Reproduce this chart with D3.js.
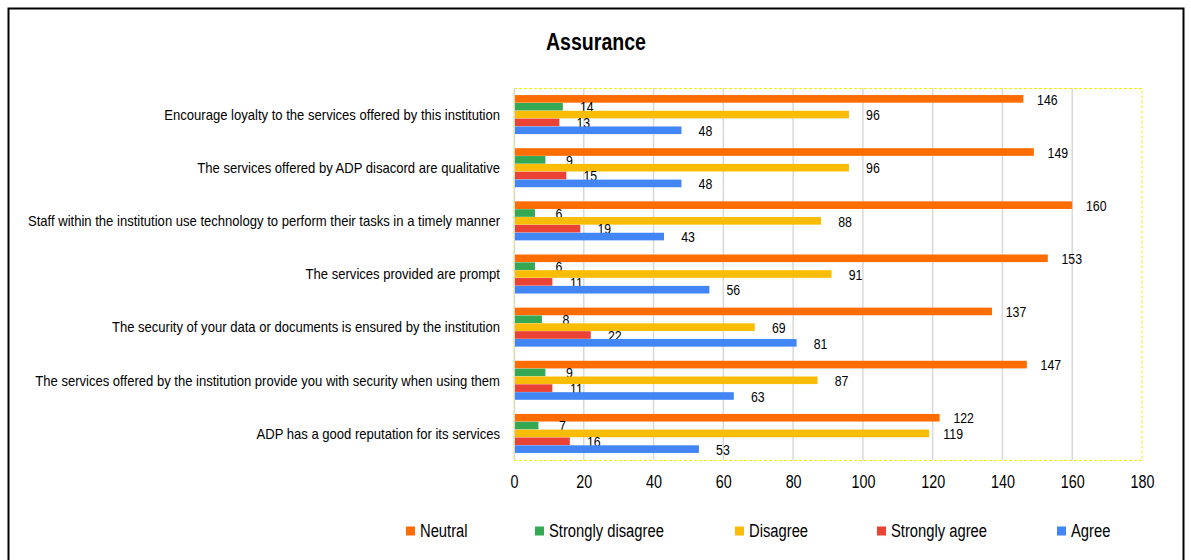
<!DOCTYPE html>
<html>
<head>
<meta charset="utf-8">
<script src="https://cdn.jsdelivr.net/npm/d3@7"></script>
<style>
  html, body { margin: 0; padding: 0; background: #fff; }
  svg { display: block; }
  text { font-family: 'Liberation Sans Narrow', 'Arial Narrow', 'Liberation Sans', Arial, sans-serif; fill: #000; }
</style>
</head>
<body>
<svg id="chart" width="1191" height="560"></svg>
<script>
// Survey statements (top to bottom)
const categories = [
  "Encourage loyalty to the services offered by this institution",
  "The services offered by ADP disacord are qualitative",
  "Staff within the institution use technology to perform their tasks in a timely manner",
  "The services provided are prompt",
  "The security of your data or documents is ensured by the institution",
  "The services offered by the institution provide you with security when using them",
  "ADP has a good reputation for its services"
];

// Response series, in drawing order within each group
const seriesNames = ["Neutral", "Strongly disagree", "Disagree", "Strongly agree", "Agree"];
const neutral          = [146, 149, 160, 153, 137, 147, 122];
const stronglyDisagree = [14, 9, 6, 6, 8, 9, 7];
const disagree         = [96, 96, 88, 91, 69, 87, 119];
const stronglyAgree    = [13, 15, 19, 11, 22, 11, 16];
const agree            = [48, 48, 43, 56, 81, 63, 53];
const seriesValues = [neutral, stronglyDisagree, disagree, stronglyAgree, agree];
const seriesColors = ["#ff6d01", "#34a853", "#fbbc04", "#ea4335", "#4285f4"];

const xTicks = [0, 20, 40, 60, 80, 100, 120, 140, 160, 180];

const svg = d3.select("#chart");

// Detect whether a condensed face is really in use; if not, squeeze glyphs.
function probeWidth(family) {
  const t = svg.append("text").style("font-family", family).style("font-size", "20px")
    .text("Strongly disagree services");
  const w = t.node().getComputedTextLength();
  t.remove();
  return w;
}
const narrowW = probeWidth("'Liberation Sans Narrow', 'Arial Narrow', 'Liberation Sans', Arial, sans-serif");
const regularW = probeWidth("'Liberation Sans', Arial, sans-serif");
const hasNarrow = narrowW / regularW < 0.9;
const K = hasNarrow ? 1 : 0.82;

function condense(sel, k) {
  if (k === 1) return;
  sel.each(function () {
    const w = this.getComputedTextLength();
    d3.select(this).attr("textLength", w * k).attr("lengthAdjust", "spacingAndGlyphs");
  });
}

// outer frame
svg.append("rect")
  .attr("x", 8.5).attr("y", 8.5)
  .attr("width", 1175).attr("height", 560)
  .attr("fill", "none").attr("stroke", "#000").attr("stroke-width", 2);

// title
const title = svg.append("text")
  .attr("x", 596).attr("y", 50)
  .attr("text-anchor", "middle")
  .style("font-size", "23px").style("font-weight", "bold")
  .text("Assurance");
condense(title, hasNarrow ? 1 : 0.85);

const plot = { left: 514, right: 1142, top: 88, bottom: 460 };

const x = d3.scaleLinear().domain([0, 180]).range([plot.left, plot.right]);
const y0 = d3.scaleBand().domain(categories).range([plot.top, plot.bottom])
  .paddingInner(0.266).paddingOuter(0.133);
const y1 = d3.scaleBand().domain(seriesNames).range([0, y0.bandwidth()]).paddingInner(0.03);

// vertical gridlines
svg.append("g").selectAll("line")
  .data(xTicks.filter(t => t > 0 && t < 180))
  .join("line")
  .attr("x1", d => x(d)).attr("x2", d => x(d))
  .attr("y1", plot.top).attr("y2", plot.bottom)
  .attr("stroke", "#d9d9d9").attr("stroke-width", 1.5);

// plot-area border (dashed) and left axis line
svg.append("rect")
  .attr("x", plot.left).attr("y", plot.top + 0.5)
  .attr("width", plot.right - plot.left).attr("height", plot.bottom - plot.top)
  .attr("fill", "none").attr("stroke", "#f5ee00").attr("stroke-width", 1)
  .attr("stroke-dasharray", "3,2");
svg.append("line")
  .attr("x1", plot.left + 0.5).attr("x2", plot.left + 0.5)
  .attr("y1", plot.top).attr("y2", plot.bottom)
  .attr("stroke", "#d9d9d9").attr("stroke-width", 1.5);

// x axis labels
const xAxis = d3.axisBottom(x).tickValues(xTicks).tickSize(0).tickPadding(0);
const gx = svg.append("g").attr("transform", `translate(0,${plot.bottom})`).call(xAxis);
gx.attr("font-family", null).attr("font-size", null);
gx.select(".domain").remove();
const tickText = gx.selectAll("text")
  .attr("y", 22).attr("dy", "0.35em")
  .style("font-size", "17.5px").attr("fill", "#000");
condense(tickText, K);

// category labels
const catText = svg.append("g").selectAll("text")
  .data(categories)
  .join("text")
  .attr("x", 500)
  .attr("y", d => y0(d) + y0.bandwidth() / 2)
  .attr("dy", "0.35em")
  .attr("text-anchor", "end")
  .style("font-size", "15px")
  .text(d => d);
condense(catText, hasNarrow ? 1 : 0.87);

// bars and value labels
const groups = svg.append("g").selectAll("g")
  .data(categories)
  .join("g")
  .attr("transform", d => `translate(0,${y0(d)})`);

seriesNames.forEach((s, si) => {
  groups.append("rect")
    .attr("x", x(0) + 1)
    .attr("y", y1(s))
    .attr("width", (d, i) => x(seriesValues[si][i]) - x(0) - 1)
    .attr("height", y1.bandwidth())
    .attr("fill", seriesColors[si]);
  const vt = groups.append("text")
    .attr("x", (d, i) => x(seriesValues[si][i]) + 24)
    .attr("y", y1(s) + y1.bandwidth() / 2)
    .attr("dy", "0.38em")
    .attr("text-anchor", "middle")
    .style("font-size", "15px")
    .text((d, i) => seriesValues[si][i]);
  condense(vt, K);
});

// legend
const legendX = [406, 535, 735, 877, 1057];
const legend = svg.append("g").selectAll("g")
  .data(seriesNames)
  .join("g")
  .attr("transform", (d, i) => `translate(${legendX[i]},531)`);
legend.append("rect")
  .attr("x", 0).attr("y", -4.5).attr("width", 9).attr("height", 9)
  .attr("fill", (d, i) => seriesColors[i]);
const legText = legend.append("text")
  .attr("x", 14).attr("dy", "0.35em")
  .style("font-size", "18px")
  .text(d => d);
condense(legText, K);
</script>
</body>
</html>
